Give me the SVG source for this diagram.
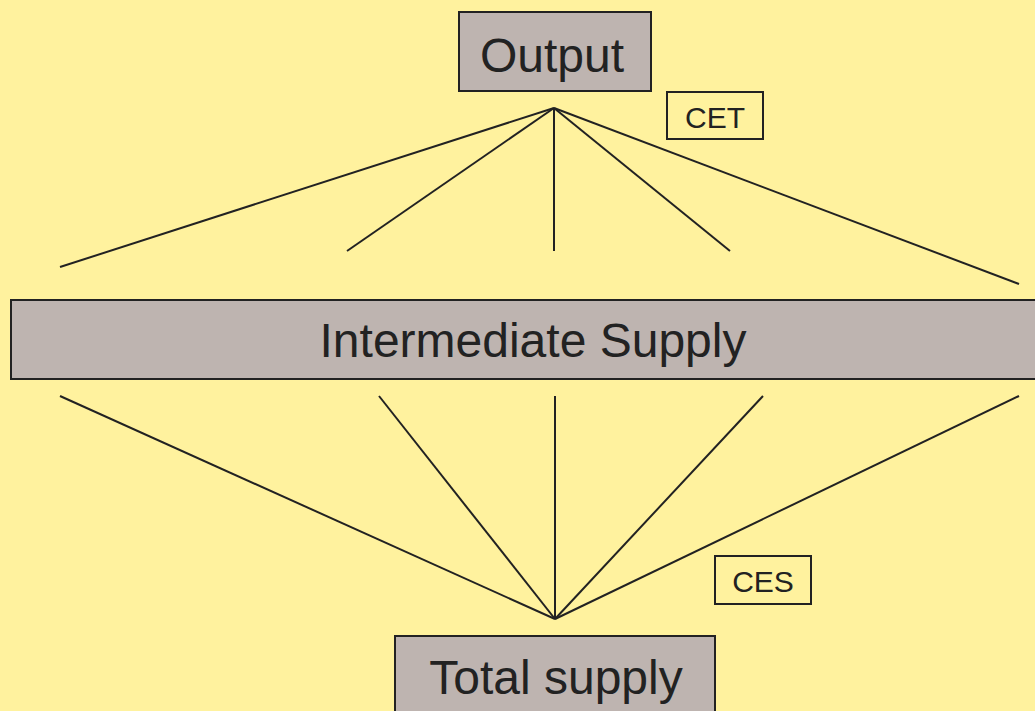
<svg xmlns="http://www.w3.org/2000/svg" width="1035" height="711" viewBox="0 0 1035 711">
<style>
.box{fill:#BEB4B0;stroke:#222;stroke-width:2}
.lbl{fill:#FFF29E;stroke:#222;stroke-width:2}
.big{font-family:"Liberation Sans",Arial,sans-serif;font-size:48px;fill:#222;text-anchor:middle}
.small{font-family:"Liberation Sans",Arial,sans-serif;font-size:30px;fill:#222;text-anchor:middle}
.ln{stroke:#222;stroke-width:2;fill:none}
</style>
<rect width="1035" height="711" fill="#FFF29E"/>
<g id="connectors">
<line class="ln" x1="554" y1="108" x2="60" y2="267"/>
<line class="ln" x1="554" y1="108" x2="347" y2="251"/>
<line class="ln" x1="554" y1="108" x2="554" y2="251"/>
<line class="ln" x1="554" y1="108" x2="730" y2="251"/>
<line class="ln" x1="554" y1="108" x2="1019" y2="284"/>
<line class="ln" x1="555" y1="619" x2="60" y2="396"/>
<line class="ln" x1="555" y1="619" x2="379" y2="396"/>
<line class="ln" x1="555" y1="619" x2="555" y2="396"/>
<line class="ln" x1="555" y1="619" x2="763" y2="396"/>
<line class="ln" x1="555" y1="619" x2="1019" y2="396"/>
</g>
<g id="output">
<rect class="box" x="459" y="12" width="192" height="79"/>
<text class="big" x="552" y="72">Output</text>
</g>
<g id="cet">
<rect class="lbl" x="667" y="92" width="96" height="47"/>
<text class="small" x="715" y="128">CET</text>
</g>
<g id="intermediate">
<rect class="box" x="11" y="300" width="1030" height="79"/>
<text class="big" x="533" y="357">Intermediate Supply</text>
</g>
<g id="ces">
<rect class="lbl" x="715" y="556" width="96" height="48"/>
<text class="small" x="763" y="592">CES</text>
</g>
<g id="total">
<rect class="box" x="395" y="636" width="320" height="85"/>
<text class="big" x="556" y="694">Total supply</text>
</g>
</svg>
